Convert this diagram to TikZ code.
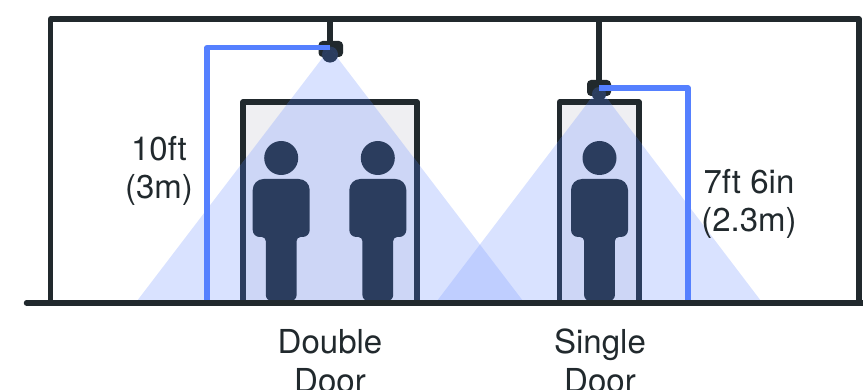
\documentclass[tikz,border=0pt]{standalone}
\usepackage{fontspec}
\setmainfont{TeX Gyre Heros}
\definecolor{wall}{HTML}{21292D}
\definecolor{doorfill}{HTML}{EFEFF2}
\definecolor{wire}{HTML}{5580FF}
\definecolor{beam}{HTML}{87A3FF}
\definecolor{figure}{HTML}{2B3D5E}
\tikzset{
  wallline/.style={draw=wall,line width=5.4pt,line join=round},
  doorframe/.style={line width=5.2pt,line join=round},
  wireline/.style={draw=wire,line width=5.2pt,line join=round},
  conebeam/.style={fill=beam,fill opacity=.316},
  lbl/.style={font=\fontsize{33}{38}\selectfont,align=center,text=wall,inner sep=0pt},
  lblb/.style={font=\fontsize{33}{39.5}\selectfont,align=center,text=wall,inner sep=0pt},
  persona/.pic={
    \fill[figure] (0,-143) circle (17);
    \fill[figure,rounded corners=11pt]
      (-28.5,-122) [rounded corners=7pt] -- (-28.5,-64) [rounded corners=4pt] -- (-15.4,-64)
      [rounded corners=6pt] -- (-15.4,0) -- (15.4,0) [rounded corners=4pt] -- (15.4,-64)
      [rounded corners=7pt] -- (28.5,-64) [rounded corners=11pt] -- (28.5,-122) -- cycle;
  },
  cambody/.style={rounded corners=4pt},
  camdome/.style={fill=figure},
}
\begin{document}
\begin{tikzpicture}[x=1pt,y=-1pt]
\useasboundingbox (0,0) rectangle (863,390);
% coordinates
\coordinate (tl) at (50.7,303);
\coordinate (tl2) at (50.7,19);
\coordinate (tr) at (859,19);
\coordinate (tr2) at (859,303);
\coordinate (fl) at (26.5,303);
\coordinate (fr) at (863,303);
\coordinate (c1) at (330,48);
\coordinate (c2) at (599,88);
\coordinate (s1) at (330,19);
\coordinate (s2) at (599,19);
% doors
\fill[doorfill] (243,303) -- (243,102) -- (417,102) -- (417,303) -- cycle;
\fill[doorfill] (559.5,303) -- (559.5,102) -- (639,102) -- (639,303) -- cycle;
\draw[doorframe,draw=wall] (243,303) -- (243,102) -- (417,102) -- (417,303);
\draw[doorframe,draw=wall] (559.5,303) -- (559.5,102) -- (639,102) -- (639,303);
% room
\draw[wallline] (tl) -- (tl2) -- (tr) -- (tr2);
\draw[wallline] (s1) -- (c1);
\draw[wallline] (s2) -- (c2);
% cameras
\fill[cambody,fill=wall] (318.5,41) rectangle (343,57);
\fill[camdome] (330,54.5) circle (8);
\fill[cambody,fill=wall] (587,80) rectangle (611,96);
\fill[camdome] (599,94) circle (7);
% beams
\fill[conebeam] (c1) -- (137,301) -- (523,301) -- cycle;
\fill[conebeam] (c2) -- (437,301) -- (761,301) -- cycle;
% frame and camera parts seen through the beams
\begin{scope}
  \clip (c1) -- (137,301) -- (523,301) -- cycle;
  \draw[doorframe,draw=figure] (243,303) -- (243,102) -- (417,102) -- (417,303);
  \fill[cambody,fill=figure] (318.5,41) rectangle (343,57);
  \fill[camdome] (330,54.5) circle (8);
\end{scope}
\begin{scope}
  \clip (c2) -- (437,301) -- (761,301) -- cycle;
  \draw[doorframe,draw=figure] (559.5,303) -- (559.5,102) -- (639,102) -- (639,303);
  \fill[cambody,fill=figure] (587,80) rectangle (611,96);
  \fill[camdome] (599,94) circle (7);
\end{scope}
% wires
\draw[wireline] (c1 |- 0,47.5) -- (207,47.5) -- (207,301);
\draw[wireline] (c2) -- (688,88) -- (688,301);
% people
\pic at (281.2,301) {persona};
\pic at (377.8,301) {persona};
\pic at (599.5,301) {persona};
% floor
\draw[draw=wall,line width=5.4pt,line cap=round] (fl) -- (fr);
% labels
\node[lbl] (h1) at (159,170.5) {10ft\\(3m)};
\node[lbl] (h2) at (749,203.5) {7ft 6in\\(2.3m)};
\node[lblb] (d1) at (330,361) {Double\\Door};
\node[lblb] (d2) at (600,361) {Single\\Door};
\end{tikzpicture}
\end{document}
